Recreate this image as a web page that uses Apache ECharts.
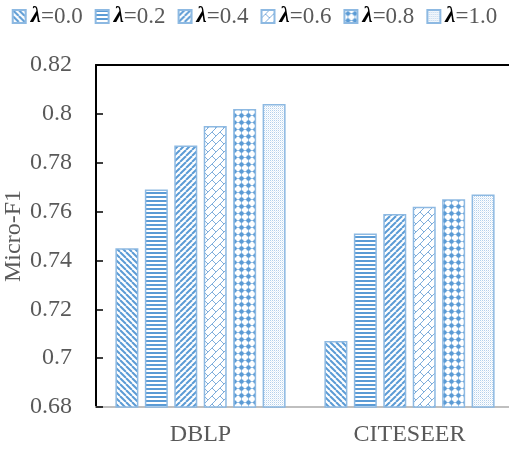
<!DOCTYPE html>
<html>
<head>
<meta charset="utf-8">
<script src="https://cdn.jsdelivr.net/npm/echarts@6/dist/echarts.min.js"></script>
<style>
html,body{margin:0;padding:0;background:#fff;}
#chart{width:509px;height:451px;}
</style>
</head>
<body>
<div id="chart"></div>
<script>
const categories = ['DBLP', 'CITESEER'];
const seriesNames = ['λ=0.0', 'λ=0.2', 'λ=0.4', 'λ=0.6', 'λ=0.8', 'λ=1.0'];
const lambda00 = [0.745, 0.707];
const lambda02 = [0.769, 0.751];
const lambda04 = [0.787, 0.759];
const lambda06 = [0.795, 0.762];
const lambda08 = [0.802, 0.765];
const lambda10 = [0.804, 0.767];
const yMin = 0.68, yMax = 0.82, yStep = 0.02;
const allValues = [lambda00, lambda02, lambda04, lambda06, lambda08, lambda10];

const BLUE = '#5B9BD5';
const LIGHT = '#9DC3E6';
function tile(w, h, draw) {
  const c = document.createElement('canvas');
  c.width = w; c.height = h;
  const g = c.getContext('2d');
  g.fillStyle = '#fff';
  g.fillRect(0, 0, w, h);
  draw(g, w, h);
  return { image: c, repeat: 'repeat' };
}
function line(g, x1, y1, x2, y2) { g.beginPath(); g.moveTo(x1, y1); g.lineTo(x2, y2); g.stroke(); }
const patterns = [
  tile(6, 6, (g) => { g.strokeStyle = BLUE; g.lineWidth = 2; for (let k = -1; k <= 1; k++) line(g, k*6, 0, k*6+6, 6); }),
  tile(4, 4, (g) => { g.fillStyle = BLUE; g.fillRect(0, 0, 4, 2); }),
  tile(6, 6, (g) => { g.strokeStyle = BLUE; g.lineWidth = 2; for (let k = -1; k <= 1; k++) line(g, k*6, 6, k*6+6, 0); }),
  tile(8, 8, (g) => { g.strokeStyle = '#7FAEDC'; g.lineWidth = 1; for (let k = -1; k <= 1; k++) line(g, k*8, 8, k*8+8, 0); line(g, 4, 4, 8, 8); }),
  tile(7, 7, (g) => { g.fillStyle = LIGHT; g.fillRect(3, 0, 1, 7); g.fillRect(0, 3, 7, 1); g.fillStyle = BLUE; g.beginPath(); g.arc(3.5, 3.5, 2.3, 0, Math.PI*2); g.fill(); }),
  tile(2, 2, (g) => { g.fillStyle = '#B4D0EC'; g.fillRect(0, 0, 1, 1); g.fillStyle = '#E4EEF8'; g.fillRect(1, 1, 1, 1); })
];

const SERIF = '"Liberation Serif", "Times New Roman", serif';
const chart = echarts.init(document.getElementById('chart'), null, { renderer: 'canvas' });
chart.setOption({
  animation: false,
  backgroundColor: '#fff',
  legend: {
    top: 3,
    left: 'center',
    padding: 2,
    icon: 'rect',
    itemWidth: 13,
    itemHeight: 13,
    itemGap: 12,
    data: seriesNames,
    formatter: (name) => '{l|λ}{t|' + name.slice(1) + '}',
    textStyle: {
      fontFamily: SERIF,
      fontSize: 23,
      rich: {
        l: { fontFamily: SERIF, fontStyle: 'italic', fontWeight: 'bold', fontSize: 23, color: '#000' },
        t: { fontFamily: SERIF, fontSize: 23, color: '#595959' }
      }
    }
  },
  grid: { left: 96, top: 65, width: 418, bottom: 44, containLabel: false, outerBoundsMode: 'none' },
  xAxis: [{
    type: 'category',
    data: categories,
    axisLine: { lineStyle: { color: '#BFBFBF', width: 2 } },
    axisTick: { show: false },
    axisLabel: { fontFamily: SERIF, fontSize: 24, color: '#595959', margin: 16 }
  }, {
    type: 'category',
    data: categories,
    position: 'top',
    axisLine: { lineStyle: { color: '#000', width: 2 } },
    axisTick: { show: false },
    axisLabel: { show: false }
  }],
  yAxis: {
    type: 'value',
    min: yMin, max: yMax, interval: yStep,
    name: 'Micro-F1',
    nameLocation: 'middle',
    nameGap: 70,
    nameMoveOverlap: false,
    nameTextStyle: { fontFamily: SERIF, fontSize: 24, color: '#595959' },
    axisLine: { show: true, lineStyle: { color: '#000', width: 2 } },
    axisTick: { show: true, inside: true, length: 7, lineStyle: { color: '#000', width: 1.5 } },
    splitLine: { show: false },
    axisLabel: { fontFamily: SERIF, fontSize: 24, color: '#595959', margin: 24 }
  },
  series: seriesNames.map((n, i) => ({
    name: n,
    type: 'bar',
    data: allValues[i],
    barWidth: 23,
    barGap: '28%',
    itemStyle: { color: patterns[i], borderColor: '#8DB9E2', borderWidth: 1.5 }
  }))
});
</script>
</body>
</html>
